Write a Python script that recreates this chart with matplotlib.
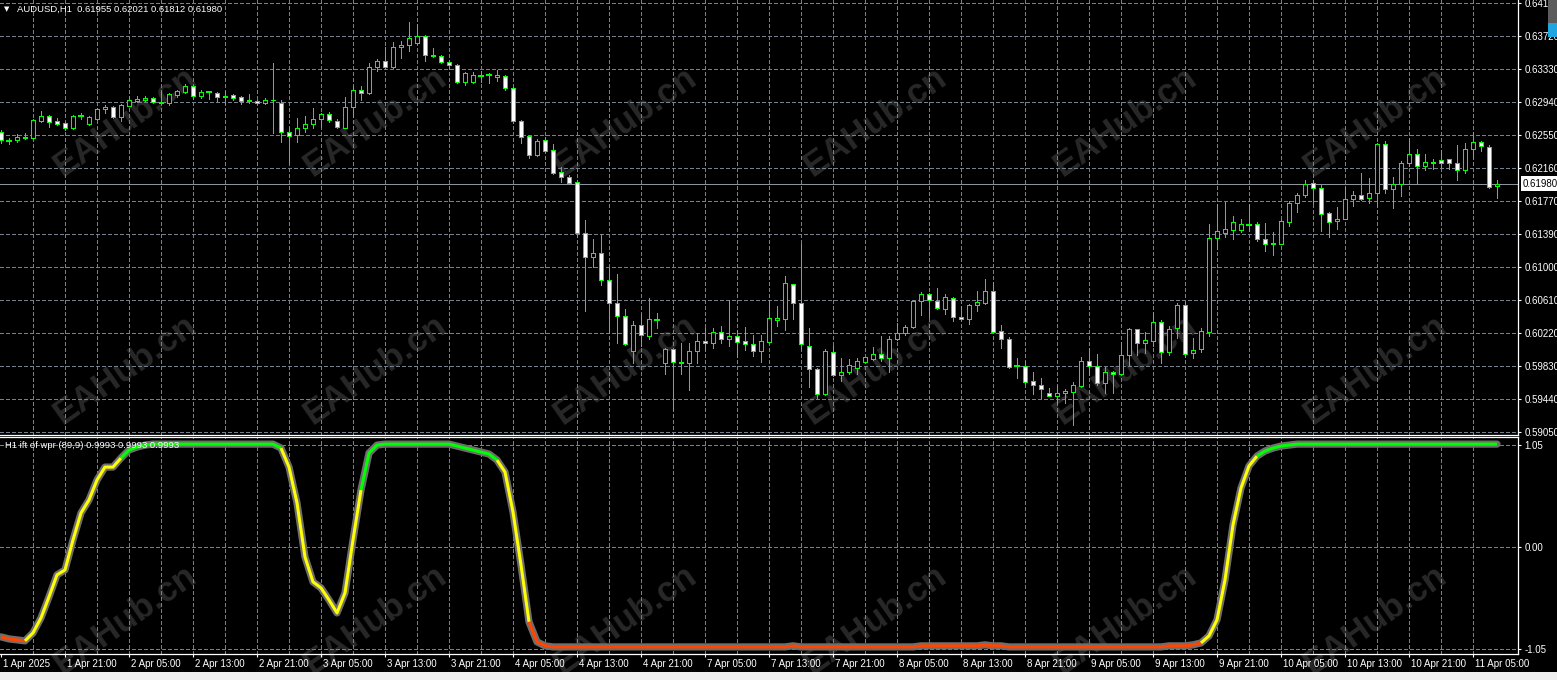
import matplotlib
matplotlib.use("Agg")
import matplotlib.pyplot as plt
import matplotlib.transforms as mtransforms
from matplotlib.patches import Rectangle
import numpy as np

plt.rcParams['font.family'] = ['Liberation Sans', 'DejaVu Sans']

# AUDUSD H1 bars, 1 Apr 13:00 .. 11 Apr 08:00
bar_open = [
    0.6259, 0.6248, 0.6249, 0.6252, 0.6252, 0.6272, 0.6278, 0.6272, 0.6269, 0.6264,
    0.6278, 0.6268, 0.6274, 0.6286, 0.6288, 0.6277, 0.6290, 0.6295, 0.6297, 0.6299,
    0.6293, 0.6293, 0.6302, 0.6306, 0.6313, 0.6301, 0.6306, 0.6305, 0.6301, 0.6302,
    0.6300, 0.6295, 0.6295, 0.6293, 0.6297, 0.6293, 0.6259, 0.6255, 0.6264, 0.6268,
    0.6274, 0.6280, 0.6272, 0.6264, 0.6288, 0.6308, 0.6305, 0.6336, 0.6343, 0.6336,
    0.6359, 0.6361, 0.6364, 0.6372, 0.6350, 0.6349, 0.6341, 0.6338, 0.6318, 0.6318,
    0.6325, 0.6326, 0.6324, 0.6325, 0.6311, 0.6272, 0.6254, 0.6232, 0.6249, 0.6238,
    0.6212, 0.6206, 0.6200, 0.6140, 0.6111, 0.6116, 0.6084, 0.6057, 0.6042, 0.6000,
    0.6031, 0.6018, 0.6037, 0.5986, 0.6003, 0.5986, 0.5986, 0.6000, 0.6012, 0.6010,
    0.6023, 0.6015, 0.6018, 0.6012, 0.6009, 0.6000, 0.6011, 0.6037, 0.6038, 0.6079,
    0.6057, 0.6007, 0.5979, 0.5950, 0.5999, 0.5972, 0.5976, 0.5980, 0.5987, 0.5991,
    0.5997, 0.5992, 0.6015, 0.6022, 0.6029, 0.6059, 0.6068, 0.6059, 0.6050, 0.6063,
    0.6041, 0.6038, 0.6055, 0.6057, 0.6071, 0.6024, 0.6015, 0.5983, 0.5983, 0.5965,
    0.5961, 0.5951, 0.5947, 0.5951, 0.5952, 0.5959, 0.5989, 0.5983, 0.5963, 0.5976,
    0.5973, 0.5996, 0.6026, 0.6010, 0.6012, 0.6035, 0.5999, 0.6028, 0.6055, 0.5998,
    0.6003, 0.6023, 0.6134, 0.6140, 0.6143, 0.6143, 0.6149, 0.6150, 0.6133, 0.6127,
    0.6127, 0.6153, 0.6175, 0.6185, 0.6199, 0.6193, 0.6163, 0.6154, 0.6156, 0.6180,
    0.6185, 0.6181, 0.6187, 0.6245, 0.6192, 0.6198, 0.6222, 0.6233, 0.6219, 0.6222,
    0.6226, 0.6227, 0.6222, 0.6214, 0.6239, 0.6247, 0.6241, 0.61955,
]
bar_high = [
    0.6261, 0.6252, 0.6256, 0.6258, 0.6274, 0.6284, 0.6279, 0.6275, 0.6271, 0.6279,
    0.6281, 0.6278, 0.6287, 0.6291, 0.6290, 0.6292, 0.6301, 0.6301, 0.6301, 0.6300,
    0.6307, 0.6305, 0.6308, 0.6316, 0.6314, 0.6308, 0.6307, 0.6306, 0.6307, 0.6304,
    0.6301, 0.6304, 0.6297, 0.6299, 0.6340, 0.6297, 0.6265, 0.6275, 0.6278, 0.6287,
    0.6281, 0.6282, 0.6274, 0.6300, 0.6313, 0.6313, 0.6340, 0.6345, 0.6359, 0.6365,
    0.6366, 0.6389, 0.6386, 0.6373, 0.6358, 0.6350, 0.6344, 0.6339, 0.6329, 0.6330,
    0.6331, 0.6328, 0.6332, 0.6326, 0.6312, 0.6273, 0.6255, 0.6251, 0.6253, 0.6245,
    0.6218, 0.6208, 0.6202, 0.6155, 0.6133, 0.6138, 0.6100, 0.6091, 0.6050, 0.6036,
    0.6044, 0.6063, 0.6045, 0.6004, 0.6004, 0.6010, 0.6010, 0.6022, 0.6028, 0.6028,
    0.6030, 0.6061, 0.6025, 0.6029, 0.6020, 0.6019, 0.6061, 0.6054, 0.6089, 0.6080,
    0.6127, 0.6028, 0.5980, 0.6003, 0.6006, 0.5992, 0.5991, 0.5992, 0.5994, 0.6005,
    0.6018, 0.6018, 0.6033, 0.6031, 0.6061, 0.6070, 0.6069, 0.6075, 0.6068, 0.6064,
    0.6054, 0.6056, 0.6071, 0.6085, 0.6082, 0.6031, 0.6017, 0.5992, 0.5989, 0.5976,
    0.5969, 0.5957, 0.5960, 0.5956, 0.5964, 0.5993, 0.6004, 0.5997, 0.5982, 0.5977,
    0.6011, 0.6028, 0.6027, 0.6023, 0.6046, 0.6037, 0.6030, 0.6057, 0.6058, 0.6016,
    0.6028, 0.6150, 0.6174, 0.6176, 0.6160, 0.6156, 0.6174, 0.6153, 0.6151, 0.6141,
    0.6155, 0.6177, 0.6187, 0.6202, 0.6202, 0.6196, 0.6164, 0.6170, 0.6194, 0.6189,
    0.6210, 0.6205, 0.6246, 0.6248, 0.6206, 0.6225, 0.6252, 0.6239, 0.6233, 0.6227,
    0.6238, 0.6227, 0.6243, 0.6246, 0.6259, 0.6248, 0.6243, 0.62021,
]
bar_low = [
    0.6246, 0.6245, 0.6247, 0.6251, 0.6251, 0.6271, 0.6265, 0.6267, 0.6261, 0.6262,
    0.6274, 0.6267, 0.6273, 0.6281, 0.6275, 0.6272, 0.6289, 0.6294, 0.6295, 0.6293,
    0.6292, 0.6291, 0.6300, 0.6305, 0.6298, 0.6299, 0.6298, 0.6295, 0.6292, 0.6297,
    0.6292, 0.6293, 0.6292, 0.6292, 0.6258, 0.6247, 0.6222, 0.6247, 0.6259, 0.6264,
    0.6265, 0.6271, 0.6264, 0.6263, 0.6277, 0.6297, 0.6304, 0.6331, 0.6334, 0.6334,
    0.6346, 0.6354, 0.6363, 0.6343, 0.6347, 0.6340, 0.6333, 0.6317, 0.6314, 0.6317,
    0.6318, 0.6317, 0.6319, 0.6308, 0.6269, 0.6246, 0.6228, 0.6231, 0.6235, 0.6209,
    0.6200, 0.6198, 0.6135, 0.6048, 0.6100, 0.6078, 0.6022, 0.6010, 0.6008, 0.5986,
    0.6007, 0.6015, 0.6028, 0.5974, 0.5931, 0.5974, 0.5954, 0.5986, 0.6002, 0.6004,
    0.6010, 0.6007, 0.5993, 0.6002, 0.5995, 0.5987, 0.6010, 0.6030, 0.6025, 0.6038,
    0.6003, 0.5958, 0.5945, 0.5949, 0.5971, 0.5965, 0.5974, 0.5974, 0.5986, 0.5990,
    0.5989, 0.5976, 0.6014, 0.6020, 0.6028, 0.6043, 0.6041, 0.6050, 0.6044, 0.6036,
    0.6037, 0.6032, 0.6048, 0.6056, 0.6022, 0.6004, 0.5980, 0.5969, 0.5963, 0.5950,
    0.5945, 0.5947, 0.5939, 0.5939, 0.5913, 0.5958, 0.5972, 0.5961, 0.5951, 0.5951,
    0.5972, 0.5984, 0.5996, 0.5998, 0.6007, 0.5986, 0.5996, 0.6016, 0.5993, 0.5992,
    0.5999, 0.6018, 0.6121, 0.6135, 0.6133, 0.6141, 0.6142, 0.6130, 0.6118, 0.6114,
    0.6127, 0.6148, 0.6164, 0.6182, 0.6175, 0.6142, 0.6135, 0.6144, 0.6156, 0.6172,
    0.6179, 0.6175, 0.6172, 0.6187, 0.6169, 0.6183, 0.6219, 0.6198, 0.6214, 0.6215,
    0.6218, 0.6215, 0.6202, 0.6210, 0.6228, 0.6236, 0.6193, 0.61812,
]
bar_close = [
    0.6249, 0.6248, 0.6253, 0.6253, 0.6273, 0.6278, 0.6271, 0.6268, 0.6264, 0.6278,
    0.6278, 0.6277, 0.6286, 0.6288, 0.6277, 0.6291, 0.6297, 0.6298, 0.6299, 0.6294,
    0.6294, 0.6304, 0.6307, 0.6313, 0.6301, 0.6306, 0.6306, 0.6300, 0.6300, 0.6299,
    0.6295, 0.6297, 0.6293, 0.6297, 0.6296, 0.6259, 0.6254, 0.6264, 0.6268, 0.6274,
    0.6280, 0.6273, 0.6265, 0.6288, 0.6308, 0.6305, 0.6336, 0.6343, 0.6336, 0.6359,
    0.6361, 0.6370, 0.6372, 0.6350, 0.6349, 0.6341, 0.6338, 0.6318, 0.6328, 0.6326,
    0.6325, 0.6326, 0.6326, 0.6311, 0.6272, 0.6253, 0.6232, 0.6248, 0.6236, 0.6210,
    0.6206, 0.6199, 0.6140, 0.6111, 0.6116, 0.6084, 0.6057, 0.6042, 0.6009, 0.6031,
    0.6019, 0.6038, 0.6037, 0.6003, 0.5987, 0.5987, 0.6000, 0.6012, 0.6010, 0.6023,
    0.6015, 0.6018, 0.6011, 0.6009, 0.6000, 0.6012, 0.6039, 0.6039, 0.6081, 0.6057,
    0.6009, 0.5979, 0.5950, 0.6000, 0.5972, 0.5976, 0.5984, 0.5989, 0.5993, 0.5997,
    0.5992, 0.6015, 0.6022, 0.6029, 0.6059, 0.6068, 0.6061, 0.6051, 0.6064, 0.6041,
    0.6038, 0.6055, 0.6058, 0.6071, 0.6023, 0.6015, 0.5982, 0.5983, 0.5964, 0.5961,
    0.5956, 0.5947, 0.5951, 0.5953, 0.5960, 0.5989, 0.5983, 0.5963, 0.5976, 0.5973,
    0.5996, 0.6026, 0.6010, 0.6013, 0.6035, 0.5999, 0.6026, 0.6055, 0.5997, 0.6002,
    0.6024, 0.6134, 0.6142, 0.6144, 0.6153, 0.6150, 0.6149, 0.6133, 0.6127, 0.6128,
    0.6154, 0.6175, 0.6185, 0.6198, 0.6193, 0.6162, 0.6153, 0.6156, 0.6180, 0.6185,
    0.6180, 0.6187, 0.6245, 0.6192, 0.6198, 0.6222, 0.6233, 0.6219, 0.6223, 0.6223,
    0.6222, 0.6222, 0.6214, 0.6239, 0.6247, 0.6242, 0.6194, 0.61980,
]

# "ift of wpr (89,9)" indicator, one value per bar
wpr_value = [
    -0.924, -0.945, -0.955, -0.965, -0.883, -0.729, -0.513, -0.287, -0.236, 0.072,
    0.349, 0.483, 0.688, 0.821, 0.821, 0.914, 0.996, 1.027, 1.047, 1.057,
    1.057, 1.057, 1.057, 1.057, 1.057, 1.057, 1.057, 1.057, 1.057, 1.057,
    1.057, 1.057, 1.057, 1.057, 1.057, 1.016, 0.821, 0.452, -0.103, -0.359,
    -0.421, -0.544, -0.678, -0.472, 0.072, 0.585, 0.965, 1.047, 1.057, 1.057,
    1.057, 1.057, 1.057, 1.057, 1.057, 1.057, 1.057, 1.037, 1.016, 0.996,
    0.975, 0.955, 0.893, 0.770, 0.359, -0.185, -0.770, -0.975, -1.016, -1.027,
    -1.027, -1.027, -1.027, -1.027, -1.027, -1.027, -1.027, -1.027, -1.027, -1.027,
    -1.027, -1.027, -1.027, -1.027, -1.027, -1.027, -1.027, -1.027, -1.027, -1.027,
    -1.027, -1.027, -1.027, -1.027, -1.027, -1.027, -1.027, -1.027, -1.027, -1.016,
    -1.027, -1.027, -1.027, -1.027, -1.027, -1.027, -1.027, -1.027, -1.027, -1.027,
    -1.027, -1.027, -1.027, -1.027, -1.027, -1.016, -1.016, -1.016, -1.016, -1.016,
    -1.016, -1.016, -1.016, -1.006, -1.016, -1.016, -1.027, -1.027, -1.027, -1.027,
    -1.027, -1.027, -1.027, -1.027, -1.027, -1.027, -1.027, -1.027, -1.027, -1.027,
    -1.027, -1.027, -1.027, -1.027, -1.027, -1.027, -1.016, -1.016, -1.016, -1.006,
    -0.986, -0.914, -0.749, -0.339, 0.226, 0.606, 0.832, 0.934, 0.986, 1.016,
    1.037, 1.047, 1.057, 1.057, 1.057, 1.057, 1.057, 1.057, 1.057, 1.057,
    1.057, 1.057, 1.057, 1.057, 1.057, 1.057, 1.057, 1.057, 1.057, 1.057,
    1.057, 1.057, 1.057, 1.057, 1.057, 1.057, 1.057, 1.057,
]
# colour state of the indicator line: (first bar, last bar, state)
wpr_runs = [(0, 3, 'down'), (3, 15, 'mid'), (15, 35, 'up'), (35, 45, 'mid'),
            (45, 62, 'up'), (62, 66, 'mid'), (66, 150, 'down'), (150, 157, 'mid'),
            (157, 187, 'up')]

date_labels = [
    '1 Apr 2025', '1 Apr 21:00', '2 Apr 05:00', '2 Apr 13:00', '2 Apr 21:00',
    '3 Apr 05:00', '3 Apr 13:00', '3 Apr 21:00', '4 Apr 05:00', '4 Apr 13:00',
    '4 Apr 21:00', '7 Apr 05:00', '7 Apr 13:00', '7 Apr 21:00', '8 Apr 05:00',
    '8 Apr 13:00', '8 Apr 21:00', '9 Apr 05:00', '9 Apr 13:00', '9 Apr 21:00',
    '10 Apr 05:00', '10 Apr 13:00', '10 Apr 21:00', '11 Apr 05:00',
]
price_ticks = [0.64110, 0.63720, 0.63330, 0.62940, 0.62550, 0.62160, 0.61770,
               0.61390, 0.61000, 0.60610, 0.60220, 0.59830, 0.59440, 0.59050]
wpr_ticks = [1.05, 0.00, -1.05]
last_price = 0.61980

W, H = 1557, 680
LIME = '#00ff00'
GRID = '#77818e'
PX = 0.7  # one device pixel, in points
state_colors = {'down': '#ff4500', 'mid': '#ffff00', 'up': '#00ff00'}

fig = plt.figure(figsize=(W / 100, H / 100), dpi=100, facecolor='black')

# watermark, drawn beneath the (transparent) axes
for cy in (122, 370, 620):
    for cx in (125, 375, 625, 875, 1125, 1375):
        fig.text(cx / W, 1 - cy / H, 'EAHub.cn', rotation=35, rotation_mode='anchor',
                 ha='center', va='center', fontsize=25, fontweight='bold',
                 color='#282828', zorder=-5)

ax = fig.add_axes([0, 1 - 435 / H, 1518 / W, 435 / H])
ax2 = fig.add_axes([0, 1 - 654 / H, 1518 / W, 217 / H])

for a in (ax, ax2):
    a.set_facecolor('none')
    a.spines['left'].set_visible(False)
    a.spines['top'].set_visible(False)
    for side in ('right', 'bottom'):
        a.spines[side].set_color('white')
        a.spines[side].set_linewidth(0.9)
ax2.spines['top'].set_visible(True)
ax2.spines['top'].set_color('white')
ax2.spines['top'].set_linewidth(0.9)

n = len(bar_open)
x = np.arange(n)
o = np.array(bar_open)
h = np.array(bar_high)
l = np.array(bar_low)
c = np.array(bar_close)

grid_bars = np.arange(4, n, 4)
dash = (0, (4, 3))

# ---- price panel ----
for b in grid_bars:
    ax.axvline(b, color=GRID, lw=PX, linestyle=dash, zorder=0.5, antialiased=False)
ax.grid(axis='y', color=GRID, lw=PX, linestyle=dash, antialiased=False)
ax.set_axisbelow(True)

ax.axhline(last_price, color='#8a949e', lw=PX, zorder=1.5, antialiased=False)

ax.vlines(x, l, h, color=LIME, lw=PX, zorder=2, antialiased=False)
up = c > o
dn = c < o
eq = c == o
ax.bar(x[up], (c - o)[up], bottom=o[up], width=0.62, facecolor='black',
       edgecolor=LIME, linewidth=PX, zorder=3, antialiased=False)
ax.bar(x[dn], (c - o)[dn], bottom=o[dn], width=0.62, facecolor='white',
       edgecolor=LIME, linewidth=PX, zorder=3, antialiased=False)
ax.hlines(o[eq], x[eq] - 0.35, x[eq] + 0.35, color=LIME, lw=1.4, zorder=3,
          antialiased=False)

ax.set_xlim(-0.125, 189.625)
ax.set_ylim(0.59015, 0.64145)
ax.set_xticks([])
ax.yaxis.tick_right()
ax.set_yticks(price_ticks)
ax.set_yticklabels([f'{p:.5f}' for p in price_ticks])
ax.tick_params(axis='y', colors='white', labelsize=7, length=2.2, width=0.8, pad=2.4)

ax.text(1 + 5 / 1518, last_price, f'{last_price:.5f}', transform=ax.get_yaxis_transform(),
        ha='left', va='center', fontsize=7, color='black', zorder=5,
        bbox=dict(boxstyle='square,pad=0.25', fc='white', ec='none'))

# ---- indicator panel ----
for b in grid_bars:
    ax2.axvline(b, color=GRID, lw=PX, linestyle=dash, zorder=0.5, antialiased=False)
ax2.grid(axis='y', color=GRID, lw=PX, linestyle=dash, antialiased=False)
ax2.set_axisbelow(True)

wv = np.array(wpr_value)
ax2.plot(x, wv, color='#6e6e6e', lw=5.2, solid_capstyle='round', zorder=2)
for s, e, st in wpr_runs:
    ax2.plot(x[s:e + 1], wv[s:e + 1], color=state_colors[st], lw=2.2,
             solid_capstyle='butt', zorder=3)

ax2.set_xlim(-0.125, 189.625)
ax2.set_ylim(-1.10, 1.13)
ax2.yaxis.tick_right()
ax2.set_yticks(wpr_ticks)
ax2.set_yticklabels([f'{v:.2f}' for v in wpr_ticks])
ax2.tick_params(axis='y', colors='white', labelsize=7, length=2.2, width=0.8, pad=2.4)

ax2.set_xticks(np.arange(0, n, 8))
ax2.set_xticklabels(date_labels, ha='left')
ax2.tick_params(axis='x', colors='white', labelsize=7, length=2.2, width=0.8, pad=1.5)
shift = mtransforms.ScaledTranslation(2 / 100, 0, fig.dpi_scale_trans)
for lab in ax2.get_xticklabels():
    lab.set_transform(lab.get_transform() + shift)

# ---- header texts ----
fig.text(4 / W, 1 - 9 / H, '\u25bc', fontsize=5, color='white', ha='left', va='center',
         family=['DejaVu Sans'])
fig.text(17 / W, 1 - 9 / H, 'AUDUSD,H1  0.61955 0.62021 0.61812 0.61980',
         fontsize=6.8, color='white', ha='left', va='center')
fig.text(5 / W, 1 - 446 / H, 'H1 ift of wpr (89,9) 0.9993 0.9993 0.9993',
         fontsize=6.8, color='white', ha='left', va='center', zorder=6)

# small scale widget top right and bottom status strip
fig.add_artist(Rectangle((1548 / W, 1 - 23 / H), 9 / W, 23 / H, transform=fig.transFigure,
                         facecolor='#5c5c5c', edgecolor='none'))
fig.add_artist(Rectangle((1548 / W, 1 - 37 / H), 9 / W, 14 / H, transform=fig.transFigure,
                         facecolor='#1fa6e0', edgecolor='none'))
fig.add_artist(Rectangle((0, 0), 1, 8 / H, transform=fig.transFigure,
                         facecolor='#f0f0f0', edgecolor='none', zorder=10))

fig.savefig('out.png', dpi=100, facecolor=fig.get_facecolor())
